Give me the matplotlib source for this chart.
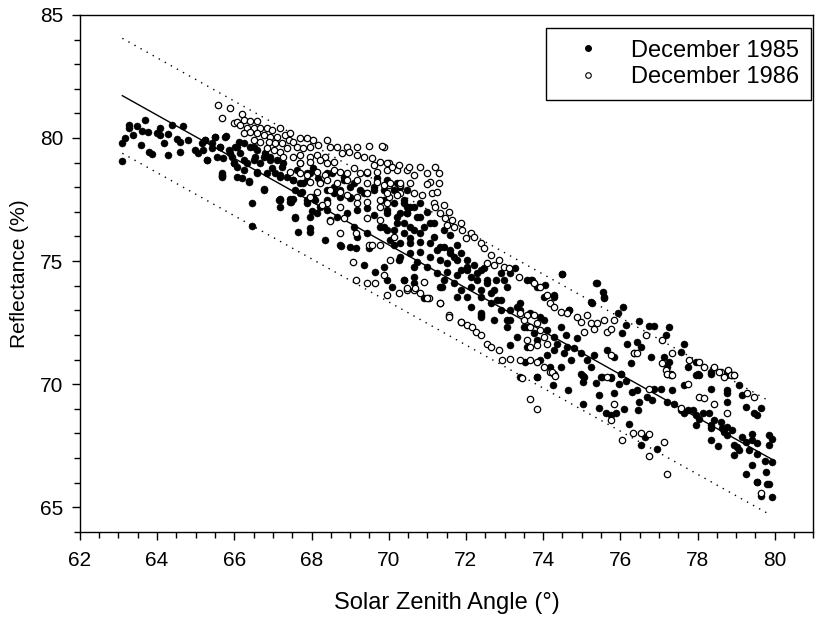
import matplotlib
matplotlib.use('Agg')
from matplotlib import pyplot as plt
from matplotlib.ticker import MultipleLocator
from matplotlib.lines import Line2D

plt.rcParams['font.family'] = ['Liberation Sans', 'DejaVu Sans']

# December 1985 (filled)
pts_1985 = [
    (63.08, 79.08), (63.08, 79.78), (63.17, 80.01), (63.28, 80.53), (63.28, 80.39), (63.38, 80.12),
    (63.49, 80.49), (63.58, 79.72), (63.62, 80.30), (63.69, 80.73), (63.76, 80.26), (63.79, 79.44),
    (63.86, 79.35), (63.99, 80.19), (64.08, 80.12), (64.08, 80.42), (64.18, 79.78), (64.27, 79.31),
    (64.29, 80.16), (64.38, 80.53), (64.51, 79.95), (64.59, 79.85), (64.59, 79.44), (64.68, 80.49),
    (64.81, 79.92), (64.98, 79.51), (65.07, 79.38), (65.16, 79.78), (65.24, 79.92), (65.29, 79.11),
    (65.42, 79.78), (65.50, 80.05), (65.63, 79.65), (65.68, 78.57), (65.68, 78.46), (65.78, 80.09),
    (65.85, 79.51), (65.94, 79.24), (66.02, 79.65), (65.98, 78.97), (66.06, 78.83), (66.11, 79.85),
    (66.15, 79.38), (66.24, 78.70), (66.32, 78.97), (66.37, 78.22), (66.50, 79.65), (66.54, 79.24),
    (66.58, 78.57), (66.76, 77.89), (66.67, 78.97), (66.80, 79.38), (66.93, 79.11), (66.97, 78.77),
    (67.06, 78.57), (67.19, 78.43), (67.23, 78.83), (67.19, 77.52), (67.45, 77.52),
    (65.24, 79.92), (65.50, 80.05), (65.76, 80.05), (65.20, 79.51), (65.41, 79.58), (65.63, 79.65),
    (65.29, 79.11), (65.55, 79.24), (65.72, 79.17), (65.89, 79.38), (66.06, 79.65), (66.24, 79.78),
    (66.41, 79.65), (66.58, 79.51), (65.98, 78.97), (66.24, 79.11), (66.50, 79.11), (66.76, 79.24),
    (66.93, 79.24), (67.10, 79.11), (67.27, 78.97), (65.67, 78.50), (65.67, 78.40), (66.06, 78.40),
    (66.19, 78.36), (66.37, 78.27), (66.58, 78.63), (66.84, 78.56), (67.19, 78.50), (67.36, 78.43),
    (67.53, 78.29), (67.71, 78.16), (67.88, 78.29), (67.97, 78.56), (68.18, 78.36), (66.76, 77.91),
    (66.45, 77.37), (67.19, 77.48), (67.19, 77.21), (67.45, 77.41), (67.58, 77.89), (67.71, 77.75),
    (67.88, 77.48), (68.10, 77.48), (68.23, 77.21), (68.40, 77.48), (68.57, 77.75), (68.74, 77.89),
    (69.00, 77.62), (69.26, 77.89), (69.44, 77.75), (69.61, 77.89), (69.87, 77.89), (70.13, 77.89),
    (70.30, 78.02), (70.47, 77.89), (67.97, 76.80), (68.14, 76.94), (68.40, 77.07), (68.66, 76.80),
    (68.92, 76.94), (69.18, 77.07), (69.44, 77.14), (69.61, 76.87), (69.96, 77.07), (70.30, 76.94),
    (70.47, 77.21), (67.58, 76.73), (66.45, 76.42), (67.66, 76.19), (67.97, 76.33), (67.97, 76.19),
    (68.36, 75.85), (68.74, 75.65), (69.09, 76.40), (69.18, 75.99), (69.44, 76.13), (69.78, 76.40),
    (69.96, 76.26), (70.21, 76.53), (70.39, 76.13), (70.56, 75.72), (69.00, 75.58), (70.13, 75.65),
    (68.53, 78.56), (68.83, 78.43), (69.09, 78.16), (69.44, 78.56), (69.70, 78.36), (69.96, 78.29),
    (70.21, 78.16), (68.76, 75.61), (69.16, 75.54), (69.37, 74.84), (69.65, 74.57), (69.48, 75.52),
    (67.58, 76.77), (67.88, 77.37), (68.01, 77.05), (67.17, 77.48), (67.47, 77.41),
    (67.53, 78.29), (67.62, 78.70), (67.71, 78.97), (67.79, 78.16), (67.88, 78.56), (68.05, 78.77),
    (68.23, 78.22), (68.40, 78.56), (68.57, 78.02), (68.83, 78.29), (69.00, 78.02), (69.35, 77.75),
    (69.61, 78.02), (67.53, 77.52), (67.75, 77.82), (68.05, 77.62), (68.40, 77.89), (68.74, 77.62),
    (69.00, 77.55),
    (69.87, 77.48), (70.13, 77.35), (70.39, 77.48), (70.56, 77.21), (70.82, 77.35), (69.96, 76.94),
    (70.21, 76.80), (70.47, 76.94), (70.73, 76.80), (70.99, 77.01), (69.87, 76.40), (70.13, 76.26),
    (70.39, 76.53), (70.65, 76.26), (70.91, 76.40), (71.17, 76.53), (71.43, 76.26), (71.60, 76.06),
    (70.04, 75.85), (70.30, 75.72), (70.56, 75.92), (70.82, 75.79), (71.08, 75.72), (71.34, 75.58),
    (71.60, 75.45), (71.77, 75.65), (70.30, 75.18), (70.56, 75.31), (70.82, 75.38), (71.08, 75.18),
    (71.34, 75.04), (71.51, 74.91), (71.68, 75.18), (71.86, 75.31), (72.03, 75.04), (72.20, 74.84),
    (70.73, 74.97), (70.99, 74.77), (71.25, 74.50), (71.51, 74.57), (71.77, 74.43), (72.03, 74.63),
    (72.29, 74.50), (72.46, 74.70), (71.68, 74.09), (71.86, 73.82), (72.12, 73.96), (72.29, 74.23),
    (72.55, 74.09), (72.77, 74.23), (72.90, 74.50), (73.07, 73.96), (72.64, 73.69), (72.81, 73.42),
    (72.38, 73.55), (72.03, 73.55), (71.77, 73.55), (72.12, 73.14), (72.38, 72.87), (72.72, 72.60),
    (72.90, 73.01), (73.15, 72.60), (73.07, 72.33), (73.33, 73.14),
    (69.87, 74.77), (69.96, 74.23), (70.08, 73.96), (70.39, 74.23), (70.26, 75.04), (70.65, 74.77),
    (70.65, 74.36), (71.34, 73.96), (70.91, 73.48), (72.38, 72.80), (73.15, 71.59), (73.54, 70.91),
    (73.85, 70.30), (73.41, 70.30),
    (73.28, 74.70), (73.15, 74.50), (72.98, 74.23), (73.59, 74.23), (73.72, 74.23), (74.06, 74.02),
    (74.28, 73.62), (74.67, 73.01), (74.58, 71.99), (74.88, 71.86), (74.36, 71.65), (74.11, 71.18),
    (74.28, 71.38), (74.54, 71.25), (74.80, 71.45), (74.97, 71.25), (75.14, 70.98), (75.23, 70.71),
    (74.97, 70.43), (75.32, 71.18), (75.66, 71.38), (75.84, 71.11), (76.27, 70.84), (75.75, 70.30),
    (76.01, 70.43), (75.49, 70.30), (75.06, 70.30),
    (73.41, 73.01), (73.67, 72.87), (73.93, 72.74), (73.50, 72.33), (73.76, 72.06), (74.11, 72.20),
    (73.85, 71.79), (73.59, 71.52), (73.33, 71.93), (74.28, 71.93), (74.45, 72.33), (74.62, 71.52),
    (73.93, 70.98), (74.19, 70.71), (74.45, 70.71), (74.71, 70.98),
    (74.48, 74.47), (75.36, 74.09), (75.56, 73.75), (75.57, 73.48), (75.27, 73.31), (76.08, 73.14),
    (75.94, 72.87), (76.14, 72.40), (76.48, 72.57), (76.74, 72.36), (76.87, 72.36), (77.26, 72.33),
    (77.18, 71.99), (76.05, 72.06), (76.16, 71.65), (76.44, 71.72), (76.53, 71.52), (76.79, 71.11),
    (76.35, 71.25), (77.13, 71.11), (77.26, 70.91), (77.22, 70.71), (77.22, 70.43), (77.65, 71.65),
    (77.56, 71.31), (77.74, 70.71), (77.95, 70.91), (78.00, 70.43), (78.34, 70.50), (78.78, 70.50),
    (78.95, 70.37),
    (73.85, 70.27), (74.26, 69.96), (74.64, 69.78), (75.03, 70.33), (75.03, 70.10), (75.36, 70.03),
    (75.53, 70.27), (75.75, 70.23), (75.96, 70.00), (76.14, 70.13), (76.31, 69.69), (76.44, 69.76),
    (76.48, 69.28), (76.46, 68.94), (76.09, 68.97), (76.01, 70.43), (75.04, 69.19), (75.45, 69.55),
    (75.45, 69.05), (75.64, 68.81), (75.75, 68.74), (75.88, 68.83), (75.83, 69.62), (76.22, 68.40),
    (76.54, 67.52), (76.63, 67.86), (76.94, 67.38),
    (76.70, 69.49), (76.83, 69.35), (76.87, 69.82), (77.05, 69.82), (77.35, 69.76), (77.39, 69.21),
    (77.22, 69.28), (77.56, 68.94), (77.65, 68.81), (77.74, 68.94), (77.87, 68.94), (77.95, 68.74),
    (77.95, 68.33), (78.04, 68.60), (78.13, 68.81), (78.30, 68.81), (78.34, 68.33), (78.34, 68.20),
    (78.43, 68.54), (78.34, 67.72), (78.53, 67.48), (78.60, 68.47), (78.64, 68.20), (78.69, 68.06),
    (78.77, 67.93), (78.77, 68.27), (78.90, 68.13), (78.95, 67.52), (79.03, 67.45), (79.08, 67.32),
    (78.95, 67.11), (79.16, 67.86), (79.25, 67.66), (79.42, 67.99), (79.42, 67.72), (79.55, 67.59),
    (79.34, 67.32), (79.55, 67.18), (79.42, 66.71), (79.25, 66.34), (79.55, 66.03), (79.77, 66.44),
    (79.81, 65.96), (79.74, 66.88), (79.94, 66.84), (79.86, 67.52), (79.84, 67.93), (79.94, 67.79),
    (79.64, 65.45), (79.94, 65.42), (79.25, 69.08), (79.47, 68.81), (79.55, 68.74), (79.64, 69.01),
    (79.16, 69.55), (79.08, 69.96), (78.77, 69.76), (78.77, 69.62), (78.77, 69.28), (78.34, 69.82),
    (77.95, 70.37), (78.04, 70.37), (77.65, 69.96), (77.30, 70.43), (78.34, 70.43),
    (79.54, 66.03), (79.84, 65.96),
    (70.39, 77.34), (70.47, 76.94), (70.65, 77.21), (70.82, 76.80), (70.56, 76.40), (70.82, 76.12),
    (71.08, 76.53), (71.17, 75.99), (71.43, 75.58), (71.25, 75.45), (71.60, 75.31), (71.77, 75.04),
    (72.03, 74.77), (71.86, 74.63), (72.12, 74.36), (72.38, 74.63), (72.55, 74.23), (72.38, 73.82),
    (72.72, 73.82), (72.90, 73.41), (72.64, 73.28), (73.15, 73.01), (73.41, 73.28), (73.68, 74.23),
    (73.85, 73.96), (74.02, 73.55), (74.28, 73.55), (74.50, 74.47), (74.67, 73.01), (74.02, 72.60),
    (73.59, 72.33), (75.40, 74.09), (75.58, 73.55), (75.23, 73.35), (73.07, 72.60), (72.38, 72.74),
    (70.39, 74.23), (70.65, 74.09), (71.43, 74.23), (71.38, 73.96),
]

# December 1986 (open)
pts_1986 = [
    (65.59, 81.34), (65.89, 81.21), (65.68, 80.80), (66.19, 80.98), (65.98, 80.60), (66.06, 80.66),
    (66.15, 80.53), (66.24, 80.73), (66.41, 80.70), (66.58, 80.70), (66.32, 80.39), (66.50, 80.39),
    (66.67, 80.39), (66.84, 80.42), (66.97, 80.33), (67.19, 80.39), (66.24, 80.19), (66.41, 80.26),
    (66.58, 80.19), (66.76, 80.12), (66.93, 80.05), (67.10, 80.05), (67.32, 80.12), (67.45, 80.19),
    (66.50, 79.92), (66.67, 79.85), (66.89, 79.85), (67.06, 79.78), (67.23, 79.78), (67.41, 79.92),
    (67.53, 79.85), (67.71, 80.00), (67.88, 80.00), (68.05, 79.92), (66.84, 79.58), (67.02, 79.51),
    (67.19, 79.44), (67.36, 79.58), (67.62, 79.65), (67.79, 79.58), (67.97, 79.65), (68.18, 79.72),
    (68.40, 79.92), (67.27, 79.24), (67.53, 79.24), (67.71, 79.31), (67.97, 79.24), (68.14, 79.31),
    (68.36, 79.24), (68.49, 79.65), (68.66, 79.65), (68.92, 79.65), (69.18, 79.65), (69.48, 79.68),
    (69.87, 79.62), (67.71, 78.97), (67.97, 79.04), (68.23, 79.10), (68.40, 78.97), (68.57, 79.04),
    (68.79, 79.38), (68.96, 79.44), (69.18, 79.31), (69.35, 79.24), (69.57, 79.17), (69.61, 78.90),
    (69.78, 79.04), (70.00, 78.97), (67.45, 78.63), (67.71, 78.56), (67.88, 78.50), (68.14, 78.63),
    (68.36, 78.50), (68.57, 78.70), (68.74, 78.63), (68.92, 78.56), (69.09, 78.77), (69.26, 78.56),
    (69.44, 78.63), (69.70, 78.63), (69.96, 78.70), (70.22, 78.70), (70.47, 78.70), (67.97, 78.23),
    (68.23, 78.16), (68.40, 78.29), (68.66, 78.16), (68.92, 78.29), (69.18, 78.29), (69.44, 78.16),
    (69.70, 78.23), (70.00, 78.09), (70.30, 78.09), (67.97, 77.62), (68.14, 77.82), (68.49, 77.89),
    (68.74, 77.82), (68.92, 77.68), (69.18, 77.62), (69.44, 77.75), (69.78, 77.48), (70.00, 77.62),
    (70.30, 77.75), (68.40, 77.34), (68.74, 77.21), (69.18, 77.34), (69.44, 77.41), (69.78, 77.21),
    (69.96, 77.34), (68.49, 76.67), (68.83, 76.73), (69.44, 76.73), (69.78, 76.67), (70.13, 75.99),
    (69.48, 75.65), (69.78, 75.65), (69.07, 74.97), (69.16, 74.23), (69.45, 74.12), (69.65, 74.12),
    (69.57, 75.65), (68.27, 77.28), (68.47, 76.64), (68.74, 76.12), (69.16, 76.12),
    (69.82, 79.69), (69.95, 78.97), (70.08, 78.83), (70.26, 78.90), (70.52, 78.83), (70.82, 78.83),
    (71.21, 78.83), (71.30, 78.56), (71.08, 78.22), (70.99, 78.56), (70.65, 78.50),
    (69.87, 78.09), (70.04, 78.16), (70.30, 78.16), (70.56, 78.16), (70.99, 78.13), (71.30, 78.18),
    (69.95, 77.75), (70.21, 77.68), (70.65, 77.75), (70.86, 77.68), (71.12, 77.75), (71.25, 77.82),
    (71.17, 77.35), (71.43, 77.28), (71.21, 77.21), (71.34, 76.94), (71.56, 77.01), (71.47, 76.73),
    (71.64, 76.67), (71.86, 76.56), (71.68, 76.40), (71.51, 76.46), (71.90, 76.26), (72.12, 76.12),
    (72.20, 75.99), (71.99, 75.92), (72.38, 75.72), (72.46, 75.52), (72.64, 75.24), (72.85, 75.04),
    (72.55, 74.91), (72.72, 74.84), (72.98, 74.77), (73.11, 74.70),
    (70.04, 75.04), (69.87, 74.43), (69.95, 73.62), (70.26, 73.69), (70.47, 73.82), (70.65, 73.82),
    (70.91, 74.16), (70.82, 73.69), (71.04, 73.48), (71.34, 73.28), (71.56, 72.81), (71.86, 72.53),
    (72.03, 72.40), (72.16, 72.33), (72.25, 72.13), (72.38, 71.99), (72.55, 71.65), (72.64, 71.52),
    (72.85, 71.38), (72.94, 70.98), (73.15, 71.04),
    (73.37, 74.36), (73.76, 74.09), (73.93, 73.96), (74.11, 73.62), (74.19, 73.28), (74.28, 73.14),
    (74.45, 72.94), (74.62, 72.87), (74.88, 72.74), (75.14, 72.81), (74.97, 72.53), (75.23, 72.47),
    (75.40, 72.47), (75.32, 72.26), (75.06, 72.13), (75.66, 72.13), (75.75, 72.26), (75.84, 72.60),
    (75.58, 72.60), (73.41, 72.87), (73.59, 72.81), (73.76, 72.81), (73.50, 72.60), (73.85, 72.47),
    (73.67, 72.33), (73.93, 72.20), (74.02, 71.93), (73.59, 71.79), (73.67, 71.52), (73.85, 71.59),
    (74.11, 71.65), (73.41, 70.98), (73.67, 70.98), (73.85, 70.91), (74.02, 70.71), (74.19, 70.50),
    (74.28, 70.43),
    (75.75, 71.18), (76.66, 71.99), (77.09, 71.79), (77.35, 71.25), (77.09, 70.84), (77.18, 70.57),
    (77.30, 70.37), (77.78, 70.98), (78.04, 70.91), (78.17, 70.71), (78.43, 70.71), (78.60, 70.50),
    (78.78, 70.57), (78.90, 70.37), (76.35, 71.25), (76.44, 71.25), (75.66, 70.30),
    (73.46, 70.23), (73.65, 69.39), (73.83, 68.97), (74.24, 70.50), (74.32, 70.33), (75.75, 68.54),
    (75.84, 69.21), (76.03, 67.72), (76.34, 68.02), (76.54, 68.02), (76.74, 67.97), (76.73, 67.07),
    (77.13, 67.63), (77.22, 66.34), (76.74, 69.82), (77.22, 70.40), (77.35, 70.37), (77.74, 70.00),
    (77.56, 69.01), (78.04, 69.49), (78.17, 69.42), (78.43, 69.21), (78.77, 68.81), (79.29, 69.62),
    (79.47, 69.49), (78.56, 70.50), (78.69, 70.30), (78.86, 70.37), (78.95, 70.37), (79.64, 65.56),
    (70.47, 73.89), (70.69, 73.89), (70.99, 73.48), (71.34, 73.28), (71.56, 72.74), (71.86, 72.53),
]

# regression line and prediction bounds (end points)
fit_x = [63.1, 80.0]
fit_y = [81.72, 66.88]
band_x = [63.1, 79.85]
upper_y = [84.05, 69.32]
lower_y = [79.38, 64.72]

xticks = [62, 64, 66, 68, 70, 72, 74, 76, 78, 80]
yticks = [65, 70, 75, 80, 85]

fig = plt.figure(figsize=(8.15, 6.22), dpi=100)
ax = fig.add_axes([0.098, 0.145, 0.9, 0.831])

x85, y85 = zip(*pts_1985)
x86, y86 = zip(*pts_1986)
ax.scatter(x85, y85, s=26, c='black', edgecolors='black', linewidths=0.3, zorder=3)
ax.scatter(x86, y86, s=21, facecolors='white', edgecolors='black', linewidths=0.9, zorder=4)

ax.plot(fit_x, fit_y, color='black', lw=1.0, zorder=2)
ax.plot(band_x, upper_y, color='black', lw=1.0, linestyle=(0, (1, 4)), zorder=2)
ax.plot(band_x, lower_y, color='black', lw=1.0, linestyle=(0, (1, 4)), zorder=2)

ax.set_xlim(62, 81)
ax.set_ylim(64, 85)
ax.set_xticks(xticks)
ax.set_yticks(yticks)
ax.xaxis.set_minor_locator(MultipleLocator(0.5))
ax.yaxis.set_minor_locator(MultipleLocator(1))
ax.tick_params(which='major', direction='out', length=6, width=1, labelsize=15, pad=8)
ax.tick_params(which='minor', direction='out', length=4, width=1)
ax.tick_params(axis='y', pad=6)
for sp in ax.spines.values():
    sp.set_linewidth(1.0)

ax.set_xlabel('Solar Zenith Angle (°)', fontsize=17, labelpad=16)
ax.set_ylabel('Reflectance (%)', fontsize=15, labelpad=8)

handles = [
    Line2D([], [], ls='none', marker='o', ms=4, mfc='black', mec='black'),
    Line2D([], [], ls='none', marker='o', ms=4, mfc='white', mec='black', mew=0.8),
]
leg = ax.legend(handles, ['December 1985', 'December 1986'], loc='upper right',
                bbox_to_anchor=(0.997, 0.975), fontsize=17, frameon=True, fancybox=False,
                edgecolor='black', framealpha=1, borderpad=0.5, labelspacing=0.2,
                handlelength=2.5, handletextpad=0.6, borderaxespad=0)
leg.get_frame().set_linewidth(1.0)

fig.savefig('out.png', dpi=100)
